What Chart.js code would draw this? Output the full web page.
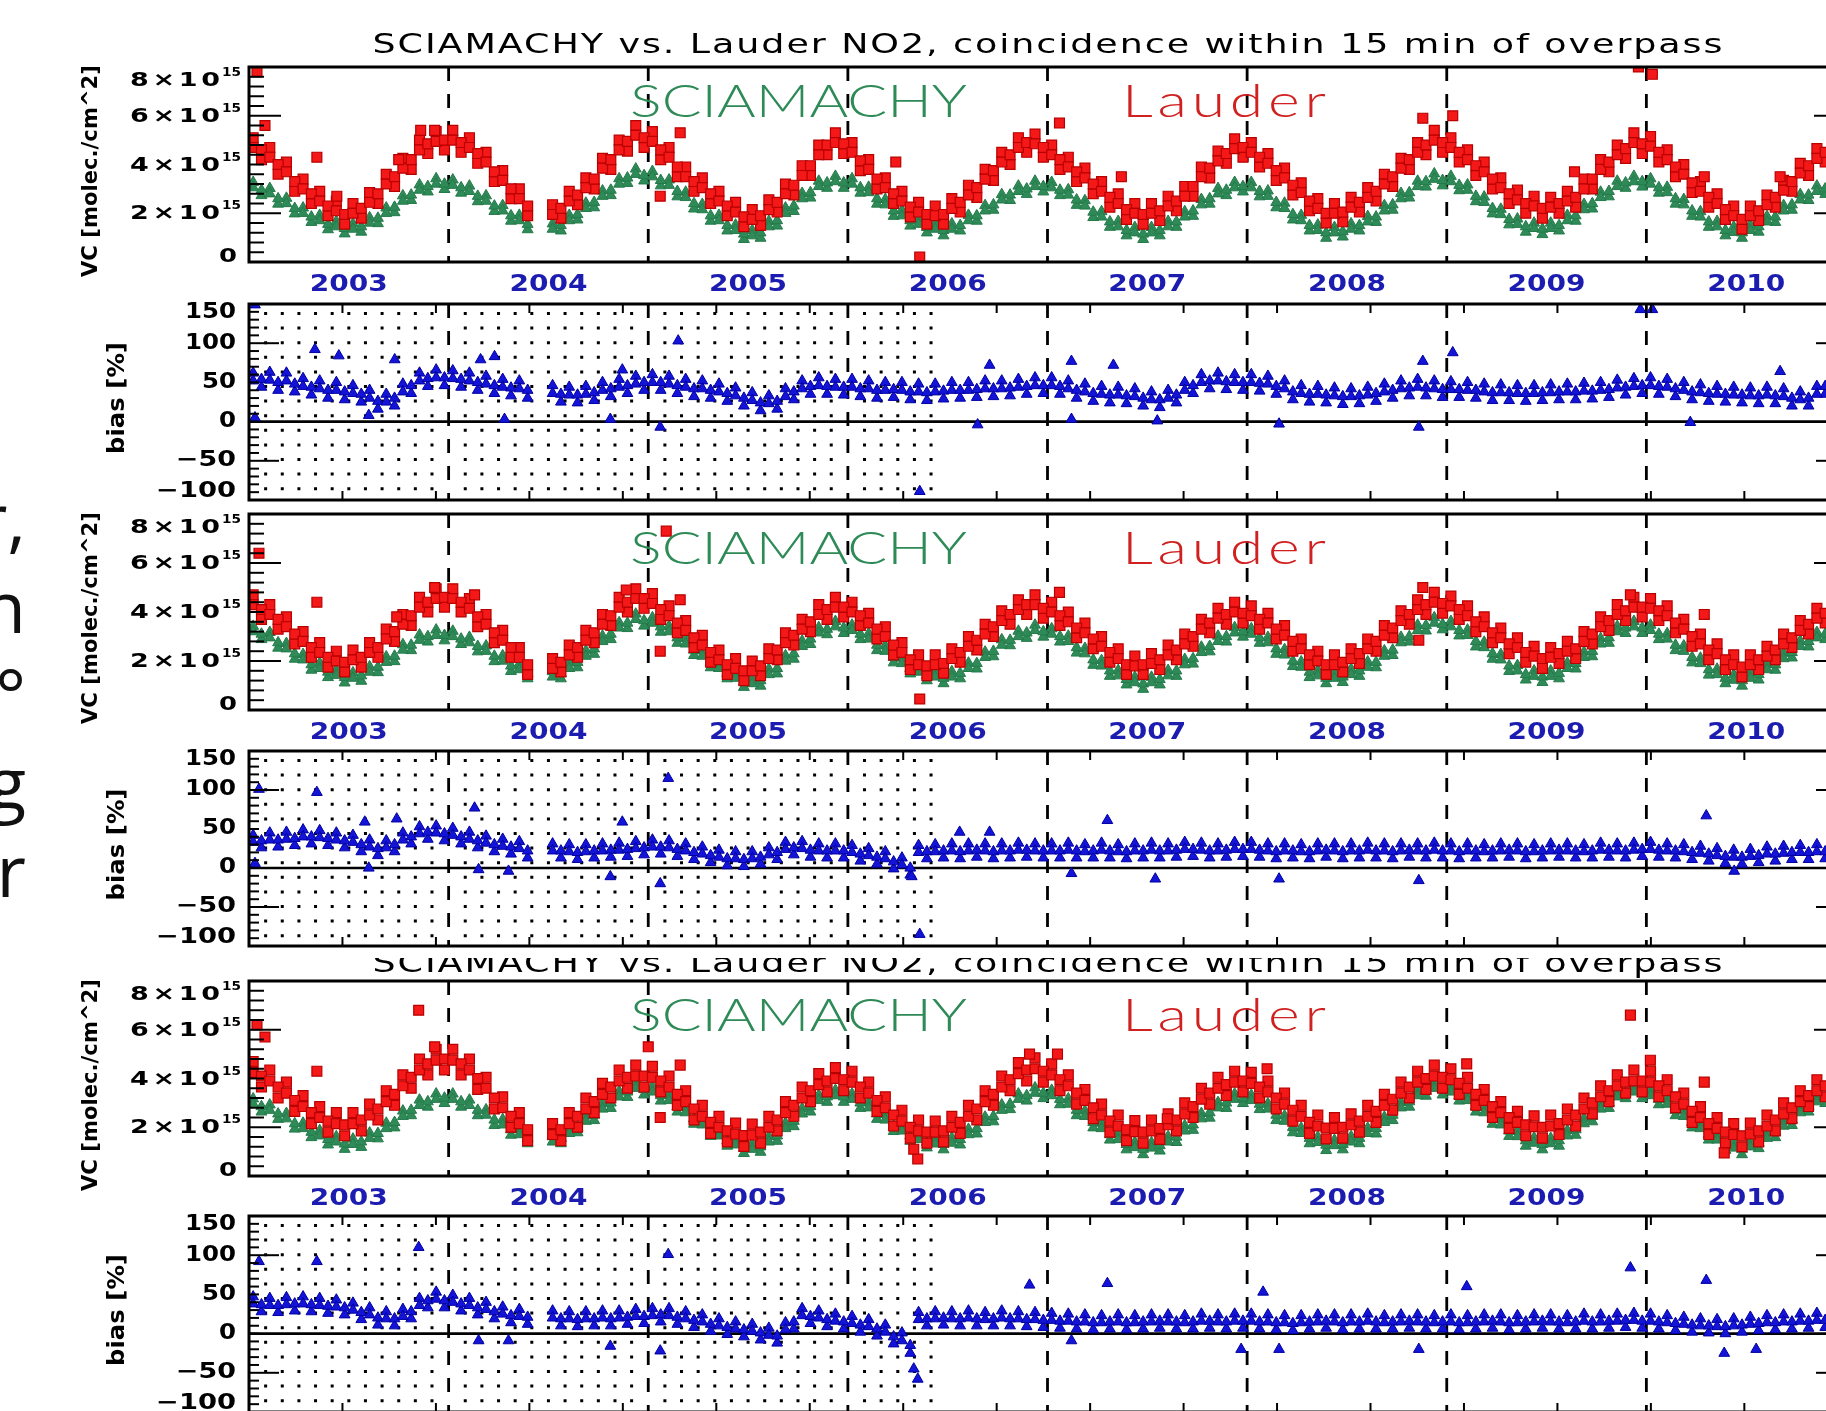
<!DOCTYPE html>
<html><head><meta charset="utf-8">
<script src="https://cdn.jsdelivr.net/npm/chart.js@4.4.1/dist/chart.umd.min.js"></script>
<style>
html,body{margin:0;padding:0;background:#fff;overflow:hidden;width:1826px;height:1411px;}
#wrap{position:relative;width:1826px;height:1411px;overflow:hidden;background:#fff;}
canvas.p{position:absolute;left:0;}
#side{position:absolute;left:-395px;width:421px;top:473px;font-family:'Open Sans';font-size:72px;line-height:88px;text-align:right;color:#111;white-space:nowrap;}
</style></head><body><div id="wrap">
<div id="side">r,<br>n<br>°<br>g<br>r</div>
<canvas id="c1" class="p"></canvas><canvas id="c2" class="p"></canvas><canvas id="c3" class="p"></canvas>
<canvas id="c4" class="p"></canvas><canvas id="c5" class="p"></canvas><canvas id="c6" class="p"></canvas>
</div>
<script>
// ---------------- DATA ----------------
const TITLE = 'SCIAMACHY vs. Lauder NO2, coincidence within 15 min of overpass';
const yearLabels = ['2003','2004','2005','2006','2007','2008','2009','2010'];
const vcTickValues = [0, 2, 4, 6, 8];            // units of 1e15 molec/cm2
const vcTickLabels = ['0', '2×10¹⁵', '4×10¹⁵', '6×10¹⁵', '8×10¹⁵'];
const biasTickValues = [-100, -50, 0, 50, 100, 150];
const biasTickLabels = ['−100', '−50', '0', '50', '100', '150'];
const vcTitle = 'VC [molec./cm^2]';
const biasTitle = 'bias [%]';
const seriesNames = ['SCIAMACHY', 'Lauder'];

// Semi-monthly readings (24 per year from Jan 2003). VC in 1e15 molec/cm2.
// "*Edge": alternating upper/lower edge of the point cloud; "*Mid": centre of the cloud.
// ---- panel A (top) ----
const lauderEdge_A = [
5.1,4.2,4.7,3.6,4.1,2.9,3.4,2.4,2.9,1.9,2.5,1.55,2.4,1.8,2.85,2.4,3.6,3.1,4.25,3.8,5.0,4.45,5.35,4.6,
5.4,4.5,5.1,4.05,4.5,3.3,3.75,2.6,3.0,1.9,null,null,2.35,1.8,2.9,2.35,3.45,3.0,4.25,3.8,5.0,4.55,5.6,4.7,
5.35,4.2,4.7,3.5,3.9,2.9,3.45,2.4,2.9,1.9,2.45,1.45,2.15,1.5,2.55,2.05,3.2,2.75,3.95,3.55,4.8,4.4,5.3,4.45,
4.9,3.75,4.2,3.0,3.45,2.4,2.9,1.85,2.45,1.55,2.3,1.55,2.6,2.05,3.15,2.65,3.8,3.35,4.5,4.0,5.1,4.5,5.25,4.3,
4.8,3.8,4.3,3.3,3.85,2.8,3.3,2.25,2.8,1.75,2.4,1.55,2.4,1.7,2.7,2.1,3.1,2.7,3.9,3.45,4.55,4.05,5.05,4.3,
4.9,3.9,4.45,3.35,3.85,2.75,3.25,2.1,2.6,1.6,2.4,1.65,2.65,2.05,3.05,2.5,3.6,3.1,4.25,3.8,4.9,4.4,5.4,4.5,
5.1,4.1,4.6,3.55,4.1,3.0,3.45,2.4,2.95,2.0,2.7,1.8,2.65,2.0,2.9,2.25,3.4,3.0,4.2,3.7,4.8,4.25,5.3,4.45,
5.15,4.1,4.6,3.5,4.0,2.85,3.3,2.25,2.8,1.75,2.3,1.35,2.3,1.7,2.75,2.25,3.35,2.9,4.05,3.55,4.65,4.1];
const lauderMid_A = [
4.7,4.6,4.3,4.0,3.7,3.3,3.0,2.8,2.5,2.3,2.1,1.95,2.0,2.2,2.45,2.8,3.2,3.5,3.85,4.2,4.6,4.85,4.95,5.0,
5.0,4.9,4.7,4.45,4.1,3.7,3.35,3.0,2.6,2.3,null,null,1.95,2.2,2.5,2.75,3.05,3.4,3.85,4.2,4.6,4.95,5.2,5.1,
4.95,4.6,4.3,3.9,3.5,3.3,3.05,2.8,2.5,2.3,2.05,1.85,1.75,1.9,2.15,2.45,2.8,3.15,3.55,3.95,4.4,4.8,4.9,4.85,
4.5,4.15,3.8,3.4,3.05,2.8,2.5,2.25,2.05,1.95,1.9,1.95,2.2,2.45,2.75,3.05,3.4,3.75,4.1,4.4,4.7,4.9,4.85,4.7,
4.4,4.2,3.9,3.7,3.45,3.2,2.9,2.65,2.4,2.15,2.0,1.95,2.0,2.1,2.3,2.5,2.7,3.1,3.5,3.85,4.15,4.45,4.65,4.7,
4.5,4.3,4.05,3.75,3.45,3.15,2.85,2.5,2.2,2.0,2.0,2.05,2.25,2.45,2.65,2.9,3.2,3.5,3.85,4.2,4.5,4.8,5.0,4.9,
4.7,4.5,4.2,3.95,3.7,3.4,3.05,2.8,2.55,2.4,2.3,2.2,2.25,2.4,2.5,2.65,3.0,3.4,3.8,4.1,4.4,4.65,4.9,4.85,
4.75,4.5,4.2,3.9,3.6,3.25,2.9,2.65,2.4,2.15,1.9,1.75,1.9,2.1,2.35,2.65,2.95,3.3,3.65,3.95,4.25,4.5];
const sciaEdge_A = [
3.27,2.73,3.02,2.38,2.62,1.98,2.22,1.63,1.92,1.33,1.67,1.16,1.57,1.23,1.82,1.58,2.22,2.03,2.72,2.53,3.17,2.88,3.42,2.98,
3.37,2.83,3.12,2.48,2.72,2.08,2.32,1.68,1.92,1.33,null,null,1.57,1.28,1.92,1.73,2.42,2.23,2.92,2.73,3.42,3.23,3.82,3.33,
3.72,3.13,3.37,2.68,2.87,2.18,2.37,1.68,1.92,1.28,1.52,0.93,1.3,0.98,1.67,1.48,2.22,2.08,2.82,2.63,3.32,3.03,3.52,3.03,
3.42,2.83,3.07,2.38,2.57,1.88,2.12,1.48,1.77,1.2,1.57,1.08,1.57,1.28,1.92,1.68,2.32,2.13,2.77,2.53,3.12,2.78,3.32,2.88,
3.27,2.73,2.97,2.33,2.52,1.83,2.07,1.43,1.67,1.08,1.42,0.93,1.42,1.08,1.67,1.43,2.07,1.88,2.57,2.38,3.02,2.73,3.27,2.88,
3.27,2.68,2.92,2.23,2.42,1.73,1.92,1.28,1.52,0.98,1.42,1.03,1.57,1.28,1.87,1.63,2.32,2.13,2.82,2.63,3.32,3.08,3.62,3.13,
3.52,2.93,3.17,2.48,2.67,1.98,2.17,1.53,1.77,1.23,1.6,1.13,1.6,1.28,1.92,1.68,2.37,2.18,2.87,2.68,3.32,3.03,3.52,3.08,
3.42,2.83,3.07,2.38,2.57,1.88,2.07,1.43,1.67,1.08,1.44,0.98,1.52,1.23,1.87,1.63,2.32,2.13,2.77,2.53,3.12,2.78];
const sciaMid_A = [
3.05,2.95,2.8,2.6,2.4,2.2,2.0,1.85,1.7,1.55,1.45,1.38,1.35,1.45,1.6,1.8,2.0,2.25,2.5,2.75,2.95,3.1,3.2,3.2,
3.15,3.05,2.9,2.7,2.5,2.3,2.1,1.9,1.7,1.55,null,null,1.35,1.5,1.7,1.95,2.2,2.45,2.7,2.95,3.2,3.45,3.6,3.55,
3.5,3.35,3.15,2.9,2.65,2.4,2.15,1.9,1.7,1.5,1.3,1.15,1.08,1.2,1.45,1.7,2.0,2.3,2.6,2.85,3.1,3.25,3.3,3.25,
3.2,3.05,2.85,2.6,2.35,2.1,1.9,1.7,1.55,1.42,1.35,1.3,1.35,1.5,1.7,1.9,2.1,2.35,2.55,2.75,2.9,3.0,3.1,3.1,
3.05,2.95,2.75,2.55,2.3,2.05,1.85,1.65,1.45,1.3,1.2,1.15,1.2,1.3,1.45,1.65,1.85,2.1,2.35,2.6,2.8,2.95,3.05,3.1,
3.05,2.9,2.7,2.45,2.2,1.95,1.7,1.5,1.3,1.2,1.2,1.25,1.35,1.5,1.65,1.85,2.1,2.35,2.6,2.85,3.1,3.3,3.4,3.35,
3.3,3.15,2.95,2.7,2.45,2.2,1.95,1.75,1.55,1.45,1.38,1.35,1.38,1.5,1.7,1.9,2.15,2.4,2.65,2.9,3.1,3.25,3.3,3.3,
3.2,3.05,2.85,2.6,2.35,2.1,1.85,1.65,1.45,1.3,1.22,1.2,1.3,1.45,1.65,1.85,2.1,2.35,2.55,2.75,2.9,3.0];
const biasEdge_A = [
62,44,63,40,62,38,55,34,52,30,50,28,46,25,40,16,35,20,48,36,62,45,66,46,
65,44,62,40,58,36,54,33,52,30,null,null,46,25,44,24,45,27,50,32,54,36,58,40,
60,40,58,36,54,32,52,30,48,26,43,20,37,14,33,16,42,28,52,35,56,35,54,34,
54,32,52,30,50,31,50,28,48,27,48,29,50,30,50,31,52,32,52,33,54,35,56,36,
56,35,52,30,48,26,45,24,44,23,42,20,38,18,40,24,50,36,60,42,62,41,60,40,
60,39,58,35,52,28,46,25,45,24,43,22,42,23,44,26,48,30,52,33,54,33,52,31,
51,31,50,30,48,27,47,27,46,26,46,27,47,28,48,28,49,29,50,31,53,34,55,36,
56,35,54,32,50,28,47,26,45,25,44,24,43,23,44,23,42,20,38,20,45,35];
const biasMid_A = [
52,54,53,50,52,48,45,44,42,40,40,38,36,35,30,26,25,30,38,46,52,55,56,56,
55,54,52,50,48,46,44,43,42,40,null,null,36,35,34,34,35,37,40,42,44,46,48,50,
50,50,48,46,44,42,42,40,38,36,33,30,27,24,23,26,32,38,42,45,46,45,44,44,
44,42,42,40,40,41,40,38,38,37,38,39,40,40,40,41,42,42,42,43,44,45,46,46,
46,45,42,40,38,36,35,34,34,33,32,30,28,28,30,34,40,46,50,52,52,51,50,50,
50,49,48,45,42,38,36,35,35,34,33,32,32,33,34,36,38,40,42,43,44,43,42,41,
41,41,40,40,38,37,37,37,36,36,36,37,37,38,38,38,39,39,40,41,43,44,45,46,
46,45,44,42,40,38,37,36,35,35,34,34,33,33,34,33,32,30,28,30,35,45];

// ---- panel B (middle) ----
const lauderEdge_B = [
4.7,3.7,4.3,3.3,3.8,2.7,3.2,2.15,2.75,1.75,2.4,1.55,2.45,1.75,2.75,2.15,3.3,2.8,3.9,3.45,4.6,4.0,4.95,4.2,
4.95,4.0,4.55,3.4,3.9,2.75,3.25,2.15,2.55,1.45,null,null,2.1,1.55,2.65,2.15,3.25,2.75,3.9,3.45,4.6,4.0,4.95,4.15,
4.75,3.7,4.25,3.15,3.65,2.55,3.05,1.95,2.45,1.45,2.1,1.2,2.0,1.4,2.5,2.05,3.15,2.65,3.7,3.2,4.3,3.7,4.6,3.8,
4.4,3.45,3.95,2.9,3.4,2.25,2.75,1.65,2.25,1.4,2.25,1.5,2.5,1.95,3.0,2.45,3.5,3.0,4.05,3.5,4.5,3.9,4.7,3.75,
4.4,3.45,4.0,2.95,3.55,2.5,3.0,1.95,2.5,1.45,2.2,1.45,2.3,1.65,2.65,2.05,3.1,2.6,3.7,3.15,4.15,3.5,4.4,3.55,
4.25,3.3,3.95,2.9,3.45,2.4,2.9,1.85,2.4,1.45,2.25,1.55,2.5,1.9,2.9,2.4,3.45,2.95,4.05,3.5,4.5,3.9,4.8,3.95,
4.65,3.7,4.25,3.2,3.8,2.75,3.35,2.3,2.95,1.95,2.6,1.7,2.55,1.9,2.8,2.1,3.2,2.7,3.8,3.25,4.3,3.65,4.6,3.8,
4.55,3.65,4.25,3.15,3.7,2.6,3.1,2.05,2.7,1.65,2.25,1.35,2.25,1.65,2.6,2.05,3.1,2.55,3.65,3.1,4.15,3.55];
const lauderMid_B = [
4.3,4.1,3.9,3.7,3.4,3.1,2.8,2.55,2.35,2.15,2.0,1.95,2.05,2.15,2.35,2.55,2.9,3.2,3.5,3.85,4.2,4.4,4.55,4.6,
4.55,4.4,4.15,3.8,3.5,3.15,2.85,2.55,2.15,1.85,null,null,1.7,1.95,2.25,2.55,2.85,3.15,3.5,3.85,4.2,4.4,4.55,4.55,
4.35,4.1,3.85,3.55,3.25,2.95,2.65,2.35,2.05,1.85,1.7,1.6,1.6,1.8,2.1,2.45,2.75,3.05,3.3,3.6,3.9,4.1,4.2,4.2,
4.0,3.85,3.55,3.3,3.0,2.65,2.35,2.05,1.85,1.8,1.85,1.9,2.1,2.35,2.6,2.85,3.1,3.4,3.65,3.9,4.1,4.3,4.3,4.15,
4.0,3.85,3.6,3.35,3.15,2.9,2.6,2.35,2.1,1.85,1.8,1.85,1.9,2.05,2.25,2.45,2.7,3.0,3.3,3.55,3.75,3.9,4.0,3.95,
3.85,3.7,3.55,3.3,3.05,2.8,2.5,2.25,2.0,1.85,1.85,1.95,2.1,2.3,2.5,2.8,3.05,3.35,3.65,3.9,4.1,4.3,4.4,4.35,
4.25,4.1,3.85,3.6,3.4,3.15,2.95,2.7,2.55,2.35,2.2,2.1,2.15,2.3,2.4,2.5,2.8,3.1,3.4,3.65,3.9,4.05,4.2,4.2,
4.15,4.05,3.85,3.55,3.3,3.0,2.7,2.45,2.3,2.05,1.85,1.75,1.85,2.05,2.2,2.45,2.7,2.95,3.25,3.5,3.75,3.95];
const sciaEdge_B = [
3.42,2.88,3.17,2.53,2.72,2.08,2.27,1.63,1.92,1.33,1.64,1.11,1.52,1.18,1.77,1.53,2.17,1.98,2.67,2.43,3.07,2.78,3.27,2.83,
3.22,2.68,2.97,2.38,2.62,1.98,2.22,1.58,1.87,1.28,null,null,1.57,1.28,1.92,1.73,2.42,2.28,3.02,2.88,3.57,3.33,3.92,3.43,
3.77,3.18,3.42,2.73,2.92,2.23,2.42,1.73,1.92,1.28,1.52,0.93,1.3,0.98,1.67,1.48,2.22,2.08,2.82,2.68,3.37,3.08,3.62,3.13,
3.47,2.88,3.12,2.43,2.62,1.93,2.12,1.48,1.77,1.2,1.57,1.08,1.57,1.28,1.92,1.68,2.37,2.18,2.87,2.63,3.22,2.93,3.47,2.98,
3.32,2.78,3.02,2.33,2.52,1.83,2.02,1.38,1.62,1.03,1.34,0.85,1.34,1.03,1.62,1.38,2.07,1.88,2.57,2.38,3.02,2.78,3.37,2.98,
3.32,2.73,2.97,2.28,2.47,1.78,1.97,1.33,1.62,1.08,1.52,1.13,1.67,1.38,1.97,1.73,2.42,2.23,2.97,2.78,3.47,3.23,3.77,3.28,
3.62,3.03,3.27,2.58,2.77,2.08,2.27,1.58,1.82,1.23,1.6,1.13,1.6,1.28,1.92,1.68,2.37,2.18,2.92,2.73,3.42,3.13,3.62,3.13,
3.47,2.88,3.12,2.43,2.62,1.93,2.12,1.43,1.67,1.08,1.44,0.98,1.52,1.23,1.87,1.63,2.32,2.13,2.82,2.58,3.17,2.88];
const sciaMid_B = [
3.2,3.1,2.95,2.75,2.5,2.3,2.05,1.85,1.7,1.55,1.42,1.33,1.3,1.4,1.55,1.75,1.95,2.2,2.45,2.65,2.85,3.0,3.05,3.05,
3.0,2.9,2.75,2.6,2.4,2.2,2.0,1.8,1.65,1.5,null,null,1.35,1.5,1.7,1.95,2.2,2.5,2.8,3.1,3.35,3.55,3.7,3.65,
3.55,3.4,3.2,2.95,2.7,2.45,2.2,1.95,1.7,1.5,1.3,1.15,1.08,1.2,1.45,1.7,2.0,2.3,2.6,2.9,3.15,3.3,3.4,3.35,
3.25,3.1,2.9,2.65,2.4,2.15,1.9,1.7,1.55,1.42,1.35,1.3,1.35,1.5,1.7,1.9,2.15,2.4,2.65,2.85,3.0,3.15,3.25,3.2,
3.1,3.0,2.8,2.55,2.3,2.05,1.8,1.6,1.4,1.25,1.12,1.07,1.12,1.25,1.4,1.6,1.85,2.1,2.35,2.6,2.8,3.0,3.15,3.2,
3.1,2.95,2.75,2.5,2.25,2.0,1.75,1.55,1.4,1.3,1.3,1.35,1.45,1.6,1.75,1.95,2.2,2.45,2.75,3.0,3.25,3.45,3.55,3.5,
3.4,3.25,3.05,2.8,2.55,2.3,2.05,1.8,1.6,1.45,1.38,1.35,1.38,1.5,1.7,1.9,2.15,2.4,2.7,2.95,3.2,3.35,3.4,3.35,
3.25,3.1,2.9,2.65,2.4,2.15,1.9,1.65,1.45,1.3,1.22,1.2,1.3,1.45,1.65,1.85,2.1,2.35,2.6,2.8,2.95,3.1];
const biasEdge_B = [
42,26,45,27,46,29,49,31,48,29,45,26,42,21,36,16,35,21,45,31,53,37,54,35,
51,31,46,26,41,21,37,18,34,13,null,null,31,13,30,11,30,13,31,14,32,15,34,17,
36,18,35,15,31,11,27,7,23,3,21,2,21,5,26,11,33,17,34,14,31,13,31,13,
29,9,25,5,21,-1,13,-9,29,12,30,13,31,12,31,14,31,12,31,13,32,14,31,13,
31,13,32,13,30,13,32,13,30,12,31,13,32,13,31,14,33,15,32,13,31,14,33,15,
33,14,31,12,31,13,30,12,31,14,31,12,31,13,32,13,31,12,31,14,31,13,32,13,
31,12,31,13,30,13,31,14,31,12,30,13,31,14,31,13,30,13,32,14,31,13,32,15,
33,14,31,13,30,11,28,9,25,6,23,5,24,7,27,9,28,11,29,11,30,12];
const biasMid_B = [
33,35,36,36,37,38,40,40,39,38,36,35,33,30,27,25,26,30,36,40,44,46,45,44,
42,40,37,35,32,30,28,27,25,22,null,null,22,22,21,20,21,22,22,23,23,24,25,26,
27,27,26,24,22,20,18,16,14,12,12,11,12,14,17,20,24,26,25,23,22,22,22,22,
20,18,16,14,12,8,4,0,20,21,21,22,22,21,22,23,22,21,22,22,23,23,22,22,
22,22,23,22,21,22,23,22,21,21,22,22,23,22,22,23,24,24,23,22,22,23,24,24,
24,23,22,21,22,22,21,21,22,23,22,21,22,22,23,22,22,21,22,23,22,22,23,22,
22,21,22,22,21,22,22,23,22,21,21,22,22,23,22,22,21,22,23,23,22,22,23,24,
24,23,22,22,21,20,19,18,16,15,14,14,15,16,18,18,19,20,20,20,21,21];

// ---- panel C (bottom) ----
const lauderEdge_C = [
4.7,3.65,4.35,3.2,3.85,2.65,3.3,2.15,2.85,1.8,2.6,1.65,2.6,1.85,2.95,2.3,3.5,2.9,4.15,3.6,4.8,4.15,5.2,4.35,
5.2,4.15,4.8,3.55,4.05,2.75,3.25,2.0,2.6,1.45,null,null,2.15,1.45,2.6,2.0,3.2,2.6,3.8,3.2,4.35,3.6,4.55,3.65,
4.5,3.45,4.1,2.9,3.5,2.3,2.9,1.75,2.45,1.4,2.17,1.21,2.13,1.35,2.45,1.85,3.05,2.45,3.65,3.05,4.2,3.45,4.45,3.5,
4.3,3.2,3.85,2.65,3.25,2.05,2.7,1.55,2.3,1.35,2.25,1.4,2.45,1.75,2.9,2.3,3.5,2.9,4.1,3.5,4.65,3.9,4.85,3.85,
4.6,3.5,4.15,2.95,3.55,2.35,2.95,1.8,2.5,1.45,2.27,1.35,2.3,1.5,2.55,1.85,3.0,2.4,3.6,2.95,4.05,3.3,4.3,3.45,
4.25,3.2,3.9,2.75,3.4,2.25,2.9,1.75,2.5,1.52,2.4,1.55,2.55,1.8,2.9,2.2,3.35,2.7,3.85,3.2,4.3,3.55,4.55,3.6,
4.4,3.35,4.05,2.9,3.55,2.4,3.05,1.95,2.65,1.65,2.47,1.55,2.5,1.7,2.75,2.05,3.2,2.55,3.7,3.05,4.15,3.4,4.35,3.45,
4.3,3.25,3.95,2.8,3.4,2.2,2.85,1.7,2.4,1.35,2.15,1.2,2.17,1.4,2.5,1.85,3.0,2.35,3.5,2.85,3.95,3.25];
const lauderMid_C = [
4.25,4.1,3.9,3.65,3.4,3.1,2.85,2.6,2.4,2.25,2.15,2.1,2.15,2.3,2.5,2.75,3.05,3.35,3.7,4.05,4.35,4.6,4.75,4.8,
4.75,4.6,4.35,4.0,3.6,3.2,2.8,2.45,2.15,1.9,null,null,1.7,1.9,2.15,2.45,2.75,3.05,3.35,3.65,3.9,4.05,4.1,4.1,
4.05,3.9,3.65,3.35,3.05,2.75,2.45,2.2,2.0,1.85,1.72,1.66,1.68,1.8,2.0,2.3,2.6,2.9,3.2,3.5,3.75,3.9,4.0,3.95,
3.85,3.65,3.4,3.1,2.8,2.5,2.25,2.0,1.85,1.8,1.8,1.85,2.0,2.2,2.45,2.75,3.05,3.35,3.65,3.95,4.2,4.35,4.4,4.3,
4.15,3.95,3.7,3.4,3.1,2.8,2.5,2.25,2.05,1.9,1.82,1.8,1.85,1.95,2.1,2.3,2.55,2.85,3.15,3.4,3.6,3.75,3.85,3.9,
3.8,3.65,3.45,3.2,2.95,2.7,2.45,2.2,2.05,1.97,1.95,2.0,2.1,2.25,2.45,2.65,2.9,3.15,3.4,3.65,3.85,4.0,4.1,4.05,
3.95,3.8,3.6,3.35,3.1,2.85,2.6,2.4,2.2,2.1,2.02,2.0,2.05,2.15,2.3,2.5,2.75,3.0,3.25,3.5,3.7,3.85,3.9,3.9,
3.85,3.7,3.5,3.25,2.95,2.65,2.4,2.15,1.95,1.8,1.7,1.65,1.72,1.85,2.05,2.3,2.55,2.8,3.05,3.3,3.5,3.7];
const sciaEdge_C = [
3.17,2.63,2.92,2.33,2.57,1.93,2.17,1.58,1.87,1.28,1.62,1.1,1.52,1.18,1.77,1.53,2.17,1.98,2.67,2.48,3.12,2.83,3.37,2.98,
3.37,2.83,3.12,2.48,2.72,2.08,2.32,1.68,1.92,1.33,null,null,1.62,1.33,1.97,1.78,2.47,2.28,2.97,2.78,3.47,3.23,3.82,3.33,
3.67,3.08,3.32,2.63,2.82,2.13,2.32,1.63,1.87,1.23,1.5,0.93,1.32,0.98,1.62,1.43,2.17,2.03,2.77,2.63,3.32,3.03,3.52,3.03,
3.37,2.78,3.02,2.33,2.52,1.83,2.07,1.43,1.72,1.16,1.54,1.08,1.57,1.28,1.92,1.73,2.42,2.23,2.92,2.73,3.37,3.08,3.62,3.18,
3.52,2.93,3.17,2.48,2.67,1.98,2.17,1.48,1.72,1.08,1.39,0.88,1.37,1.03,1.62,1.38,2.07,1.88,2.57,2.38,3.02,2.78,3.37,2.98,
3.32,2.73,2.97,2.28,2.47,1.78,1.97,1.33,1.6,1.05,1.47,1.08,1.62,1.33,1.97,1.73,2.42,2.28,3.02,2.83,3.52,3.28,3.82,3.33,
3.67,3.08,3.32,2.63,2.82,2.13,2.32,1.63,1.84,1.23,1.57,1.08,1.55,1.23,1.87,1.68,2.37,2.23,2.97,2.78,3.47,3.18,3.67,3.18,
3.52,2.93,3.17,2.48,2.67,1.98,2.17,1.48,1.7,1.06,1.37,0.88,1.42,1.13,1.77,1.58,2.27,2.08,2.82,2.63,3.27,2.98];
const sciaMid_C = [
2.95,2.85,2.7,2.55,2.35,2.15,1.95,1.8,1.65,1.5,1.4,1.32,1.3,1.4,1.55,1.75,1.95,2.2,2.45,2.7,2.9,3.05,3.15,3.2,
3.15,3.05,2.9,2.7,2.5,2.3,2.1,1.9,1.7,1.55,null,null,1.4,1.55,1.75,2.0,2.25,2.5,2.75,3.0,3.25,3.45,3.6,3.55,
3.45,3.3,3.1,2.85,2.6,2.35,2.1,1.85,1.65,1.45,1.28,1.15,1.1,1.2,1.4,1.65,1.95,2.25,2.55,2.85,3.1,3.25,3.3,3.25,
3.15,3.0,2.8,2.55,2.3,2.05,1.85,1.65,1.5,1.38,1.32,1.3,1.35,1.5,1.7,1.95,2.2,2.45,2.7,2.95,3.15,3.3,3.4,3.4,
3.3,3.15,2.95,2.7,2.45,2.2,1.95,1.7,1.5,1.3,1.17,1.1,1.15,1.25,1.4,1.6,1.85,2.1,2.35,2.6,2.8,3.0,3.15,3.2,
3.1,2.95,2.75,2.5,2.25,2.0,1.75,1.55,1.38,1.27,1.25,1.3,1.4,1.55,1.75,1.95,2.2,2.5,2.8,3.05,3.3,3.5,3.6,3.55,
3.45,3.3,3.1,2.85,2.6,2.35,2.1,1.85,1.62,1.45,1.35,1.3,1.33,1.45,1.65,1.9,2.15,2.45,2.75,3.0,3.25,3.4,3.45,3.4,
3.3,3.15,2.95,2.7,2.45,2.2,1.95,1.7,1.48,1.28,1.15,1.1,1.2,1.35,1.55,1.8,2.05,2.3,2.6,2.85,3.05,3.2];
const biasEdge_C = [
47,28,45,27,46,29,47,28,45,26,43,24,39,18,33,11,28,10,31,19,45,33,53,33,
49,29,45,24,40,19,34,14,31,12,null,null,29,10,28,9,28,10,29,10,29,12,31,13,
32,15,32,12,28,8,24,3,19,-1,15,-4,12,-8,7,-12,14,6,32,13,29,9,25,6,
22,2,18,-3,11,-13,1,-25,27,10,28,11,28,10,29,10,27,10,29,10,28,9,27,8,
26,7,25,6,24,5,23,6,24,5,23,6,24,7,24,6,23,6,25,7,24,6,25,7,
25,6,24,5,23,4,23,6,24,7,24,5,24,6,25,6,23,6,24,7,24,6,23,6,
24,5,23,6,24,7,24,5,23,6,24,7,24,6,23,6,25,6,24,7,25,8,26,7,
25,6,23,4,21,2,19,1,18,0,19,2,21,4,23,5,24,6,25,7,26,8];
const biasMid_C = [
38,37,36,36,37,38,38,37,36,35,34,33,30,27,24,20,19,19,22,28,36,42,44,42,
40,38,36,33,31,28,25,23,22,21,null,null,20,19,19,18,19,19,20,19,20,21,22,22,
23,24,23,21,19,17,15,12,10,8,6,5,3,1,-2,-3,5,15,23,22,20,18,16,15,
13,11,9,6,2,-4,-9,-15,18,19,19,20,19,19,20,19,18,19,20,19,19,18,18,17,
17,16,16,15,15,14,14,15,15,14,14,15,15,16,15,15,14,15,16,16,15,15,16,16,
16,15,15,14,14,13,14,15,15,16,15,14,15,15,16,15,14,15,15,16,15,15,14,15,
15,14,14,15,15,16,15,14,14,15,15,16,15,15,14,15,16,15,15,16,16,17,17,16,
16,15,14,13,12,11,10,10,9,9,10,11,12,13,14,14,15,15,16,16,17,17];

// isolated points [decimal year, value]
const lauderOut_A = [[2003.04,7.8],[2003.08,5.6],[2003.34,4.3],[2003.44,2.7],[2003.75,4.2],[2003.86,5.4],[2003.93,5.4],
 [2005.06,2.7],[2005.16,5.3],[2006.24,4.1],[2006.36,0.2],[2007.06,5.7],[2007.37,3.5],[2008.88,5.9],[2009.03,6.0],
 [2009.96,8.0],[2010.03,7.7],[2009.64,3.7],[2010.29,3.5],[2010.67,3.5]];
const lauderOut_B = [[2003.05,6.4],[2003.34,4.4],[2003.74,3.8],[2003.93,5.0],[2004.13,4.7],[2004.89,4.9],[2005.06,2.4],
 [2005.16,4.5],[2005.09,7.3],[2006.36,0.45],[2007.06,4.8],[2008.88,5.0],[2008.86,2.85],[2009.92,4.7],[2010.29,3.9]];
const lauderOut_C = [[2003.04,6.2],[2003.08,5.7],[2003.34,4.3],[2003.85,6.8],[2003.93,5.3],[2005.0,5.3],[2005.16,4.55],
 [2005.06,2.4],[2006.35,0.7],[2006.33,1.1],[2006.91,5.0],[2007.05,5.0],[2007.6,2.35],[2008.1,4.4],[2009.1,4.6],
 [2009.92,6.6],[2010.02,4.75],[2010.29,3.85],[2010.39,0.95]];
const biasOut_A = [[2003.03,149],[2003.03,5],[2003.33,92],[2003.45,84],[2003.6,8],[2003.73,79],[2004.16,79],[2004.23,83],
 [2004.28,3],[2004.81,3],[2005.06,-7],[2005.15,103],[2004.87,66],[2006.36,-89],[2006.65,-4],[2006.71,72],[2007.12,3],
 [2007.12,77],[2007.33,72],[2007.55,1],[2008.16,-3],[2008.86,-7],[2008.88,77],[2009.03,88],[2009.97,143],[2010.03,143],
 [2010.22,-1],[2010.67,64]];
const biasOut_B = [[2003.05,101],[2003.34,97],[2003.03,6],[2003.6,0],[2003.58,59],[2003.74,63],[2004.13,77],[2004.15,-2],
 [2004.3,-4],[2004.87,59],[2004.81,-11],[2005.06,-20],[2005.1,115],[2006.36,-85],[2006.32,-11],[2006.56,46],[2006.71,46],
 [2007.12,-7],[2007.3,61],[2007.54,-14],[2008.16,-14],[2008.86,-16],[2010.3,67],[2010.44,-4]];
const biasOut_C = [[2003.05,92],[2003.34,92],[2003.85,110],[2005.1,101],[2004.15,-9],[2004.3,-9],[2005.06,-22],[2004.81,-16],
 [2006.35,-58],[2006.33,-45],[2006.91,62],[2007.3,64],[2007.12,-9],[2007.97,-20],[2008.16,-20],[2008.86,-20],[2009.1,60],
 [2009.92,84],[2010.3,68],[2010.39,-25],[2010.55,-20],[2008.08,53]];

// ---------------- HELPERS ----------------
const YEAR0 = 2003, YEAR1 = 2011;
function semiMonthly(vals){ const out=[]; vals.forEach((v,i)=>{ if(v!==null) out.push({x:YEAR0+(i+0.5)/24, y:v}); }); return out; }
function pairs(arr){ return arr.map(p=>({x:p[0], y:p[1]})); }

function fitText(ctx, text, x, y, width, font, color, align, maxScale){
  maxScale = maxScale || 1.35;
  ctx.save();
  ctx.font = font; ctx.letterSpacing = '0px';
  const n = [...text].length;
  const w0 = ctx.measureText(text).width;
  let sx = 1, ls = 0, vis = w0;
  if (width){
    sx = Math.max(0.75, Math.min(width / w0, maxScale));
    ls = n > 1 ? (width - w0*sx) / (n-1) / sx : 0;
    vis = width;
  }
  let x0 = x;
  if (align === 'center') x0 = x - vis/2; else if (align === 'right') x0 = x - vis;
  ctx.translate(x0, y); ctx.scale(sx, 1);
  ctx.letterSpacing = ls + 'px'; ctx.fillStyle = color; ctx.textAlign = 'left';
  ctx.fillText(text, 0, 0);
  ctx.restore();
}
function vtext(ctx, text, bx, cy, len, font, color){
  ctx.save(); ctx.translate(bx, cy); ctx.rotate(-Math.PI/2); ctx.textBaseline='alphabetic';
  fitText(ctx, text, 0, 0, len, font, color, 'center'); ctx.restore();
}
function seg(ctx,x1,y1,x2,y2){ ctx.beginPath(); ctx.moveTo(x1,y1); ctx.lineTo(x2,y2); ctx.stroke(); }
const SUP = {'¹':'1','⁵':'5'};

const FONT = '"DejaVu Sans"';
const framePlugin = {
  id:'frame',
  beforeDatasetsDraw(chart, args, o){
    const {ctx, chartArea:a, scales:{x, y}} = chart;
    ctx.save(); ctx.strokeStyle = '#000';
    if (o.dotted){
      ctx.lineWidth = 3; ctx.setLineDash([3, 11.6]);
      for (let m = 1; m <= 41; m++){ if (m % 12 === 0) continue;
        const px = x.getPixelForValue(YEAR0 + m/12); seg(ctx, px, a.top+8, px, a.bottom); }
    }
    ctx.lineWidth = 2.8; ctx.setLineDash([14, 13]);
    for (let yr = YEAR0+1; yr < YEAR1; yr++){ const px = x.getPixelForValue(yr); seg(ctx, px, a.top, px, a.bottom); }
    ctx.setLineDash([]);
    if (o.kind === 'bias'){ ctx.lineWidth = 2.6; const py = y.getPixelForValue(0); seg(ctx, a.left, py, a.right, py); }
    ctx.restore();
  },
  afterDatasetsDraw(chart, args, o){
    const {ctx, chartArea:a, scales:{x, y}} = chart;
    ctx.save();
    ctx.strokeStyle = '#000'; ctx.lineWidth = 3; ctx.setLineDash([]);
    ctx.strokeRect(a.left, a.top, a.right - a.left, a.bottom - a.top);
    ctx.lineWidth = 2;
    if (o.kind === 'vc'){
      for (let v = 0; v <= 8.001; v += 0.4){ const py = y.getPixelForValue(v);
        const long = Math.abs(v-2)<0.01 || Math.abs(v-6)<0.01;
        seg(ctx, a.left, py, a.left + (long ? 32 : 15), py);
        if (long) seg(ctx, a.right - 32, py, a.right, py); }
    } else {
      for (let v = -100; v <= 150; v += 10){ const py = y.getPixelForValue(v);
        const long = v === 100 || v === -50;
        seg(ctx, a.left, py, a.left + (long ? 30 : 10), py);
        if (long) seg(ctx, a.right - 30, py, a.right, py); }
      for (let k = 0; k < 18; k++){ const px = x.getPixelForValue(YEAR0 + k*171/365.25);
        seg(ctx, px, a.top, px, a.top + 9); seg(ctx, px, a.bottom - 9, px, a.bottom); }
    }
    // tick labels
    ctx.textBaseline = 'middle';
    const vals = o.kind === 'vc' ? vcTickValues : biasTickValues;
    const labs = o.kind === 'vc' ? vcTickLabels : biasTickLabels;
    vals.forEach((v, i) => {
      let py = y.getPixelForValue(v);
      py = Math.min(Math.max(py, a.top + (o.kind==='vc'?13:9)), a.bottom - (o.kind==='vc'?5:8));
      const t = labs[i];
      if (o.kind === 'vc'){
        const m = t.match(/^(.*?)([¹⁵]*)$/);
        if (m[2]){
          const sup = [...m[2]].map(c => SUP[c]).join('');
          fitText(ctx, m[1], 220, py + 1, 90, 'bold 20px ' + FONT, '#000', 'right');
          fitText(ctx, sup, 241, py - 7, 19, 'bold 12px ' + FONT, '#000', 'right', 1.5);
        } else fitText(ctx, t, 237, py, 18, 'bold 20px ' + FONT, '#000', 'right');
      } else {
        const wmap = {'150':51,'100':51,'50':34,'0':17,'−50':60,'−100':80};
        fitText(ctx, t, 236, py, wmap[t], 'bold 21px ' + FONT, '#000', 'right', 1.6);
      }
    });
    // axis title
    if (o.clipTop !== undefined){ ctx.save(); ctx.beginPath(); ctx.rect(0, a.top + o.clipTop, 400, 2000); ctx.clip(); }
    if (o.kind === 'vc') vtext(ctx, vcTitle, 97, a.top + 104, 212, 'bold 22px ' + FONT, '#000');
    else vtext(ctx, biasTitle, 124, (a.top + a.bottom)/2 - 4, 112, 'bold 23px ' + FONT, '#000');
    if (o.clipTop !== undefined) ctx.restore();
    // series names inside VC panels
    if (o.kind === 'vc'){
      ctx.textBaseline = 'alphabetic';
      fitText(ctx, seriesNames[0], 630, a.top + 50, 337, '300 45px Lato', '#2e8b57', 'left');
      fitText(ctx, seriesNames[1], 1122, a.top + 50, 204, '300 45px Lato', '#d02020', 'left');
      ctx.textBaseline = 'middle';
      yearLabels.forEach((t, i) => {
        fitText(ctx, t, x.getPixelForValue(YEAR0 + i + 0.5), a.bottom + 23, 78, 'bold 23px ' + FONT, '#1c1cb0', 'center');
      });
    }
    // title
    if (o.title){
      ctx.textBaseline = 'alphabetic';
      const cx = (a.left + a.right)/2;
      if (o.title === 'cut'){ ctx.save(); ctx.beginPath(); ctx.rect(0, a.top - 23, 2000, 30); ctx.clip();
        fitText(ctx, TITLE, cx, a.top - 9, 1350, '27px ' + FONT, '#000', 'center'); ctx.restore(); }
      else fitText(ctx, TITLE, cx, a.top - 14, 1350, '27px ' + FONT, '#000', 'center');
    }
    ctx.restore();
  }
};

const redStyle = {pointStyle:'rect', pointRadius:7, backgroundColor:'#f41818', borderColor:'#b80000', borderWidth:1.2, showLine:false};
const greenStyle = {pointStyle:'triangle', pointRadius:6.3, backgroundColor:'#2e8b57', borderColor:'#257a4b', borderWidth:1, showLine:false};
const blueStyle = {pointStyle:'triangle', pointRadius:6.2, backgroundColor:'#1414d8', borderColor:'#0000a0', borderWidth:1, showLine:false};

const panels = [
  {id:'c1', top:0,    h:300, pt:67, pb:38, kind:'vc',   red:[lauderEdge_A, lauderMid_A], redOut:lauderOut_A, green:[sciaEdge_A, sciaMid_A], title:'full'},
  {id:'c2', top:296,  h:220, pt:8,  pb:16, kind:'bias', blue:[biasEdge_A, biasMid_A], blueOut:biasOut_A, dotted:true},
  {id:'c3', top:505,  h:250, pt:9,  pb:45, kind:'vc',   red:[lauderEdge_B, lauderMid_B], redOut:lauderOut_B, green:[sciaEdge_B, sciaMid_B], clipTop:-3},
  {id:'c4', top:745,  h:210, pt:6,  pb:9,  kind:'bias', blue:[biasEdge_B, biasMid_B], blueOut:biasOut_B, dotted:true},
  {id:'c5', top:940,  h:280, pt:41, pb:44, kind:'vc',   red:[lauderEdge_C, lauderMid_C], redOut:lauderOut_C, green:[sciaEdge_C, sciaMid_C], title:'cut'},
  {id:'c6', top:1210, h:210, pt:6,  pb:8,  kind:'bias', blue:[biasEdge_C, biasMid_C], blueOut:biasOut_C, dotted:true}
];
const CW = 1900, RIGHT = 1846, LEFT = 249;

panels.forEach(p => {
  const cv = document.getElementById(p.id);
  cv.width = CW; cv.height = p.h; cv.style.top = p.top + 'px'; cv.style.width = CW + 'px'; cv.style.height = p.h + 'px';
  let datasets;
  if (p.kind === 'vc'){
    datasets = [
      Object.assign({label:'Lauder', data: semiMonthly(p.red[0]).concat(semiMonthly(p.red[1]), pairs(p.redOut))}, redStyle),
      Object.assign({label:'SCIAMACHY', data: semiMonthly(p.green[0]).concat(semiMonthly(p.green[1]))}, greenStyle)
    ];
  } else {
    datasets = [Object.assign({label:'bias', data: semiMonthly(p.blue[0]).concat(semiMonthly(p.blue[1]), pairs(p.blueOut))}, blueStyle)];
  }
  new Chart(cv, {
    type:'scatter',
    data:{datasets},
    options:{
      responsive:false, animation:false, devicePixelRatio:1,
      layout:{autoPadding:false, padding:{top:p.pt, bottom:p.pb, left:0, right:CW-RIGHT}},
      plugins:{legend:{display:false}, tooltip:{enabled:false},
        frame:{kind:p.kind, dotted:!!p.dotted, title:p.title||null, clipTop:p.clipTop}},
      scales:{
        x:{type:'linear', min:YEAR0, max:YEAR1, grid:{display:false}, border:{display:false}, ticks:{display:false},
           afterFit(s){ s.height = 0; }},
        y:{type:'linear', min: p.kind==='vc'?0:-100, max: p.kind==='vc'?8:150, grid:{display:false}, border:{display:false},
           ticks:{display:false}, afterFit(s){ s.width = LEFT; }}
      }
    },
    plugins:[framePlugin]
  });
});
</script>
</body></html>
